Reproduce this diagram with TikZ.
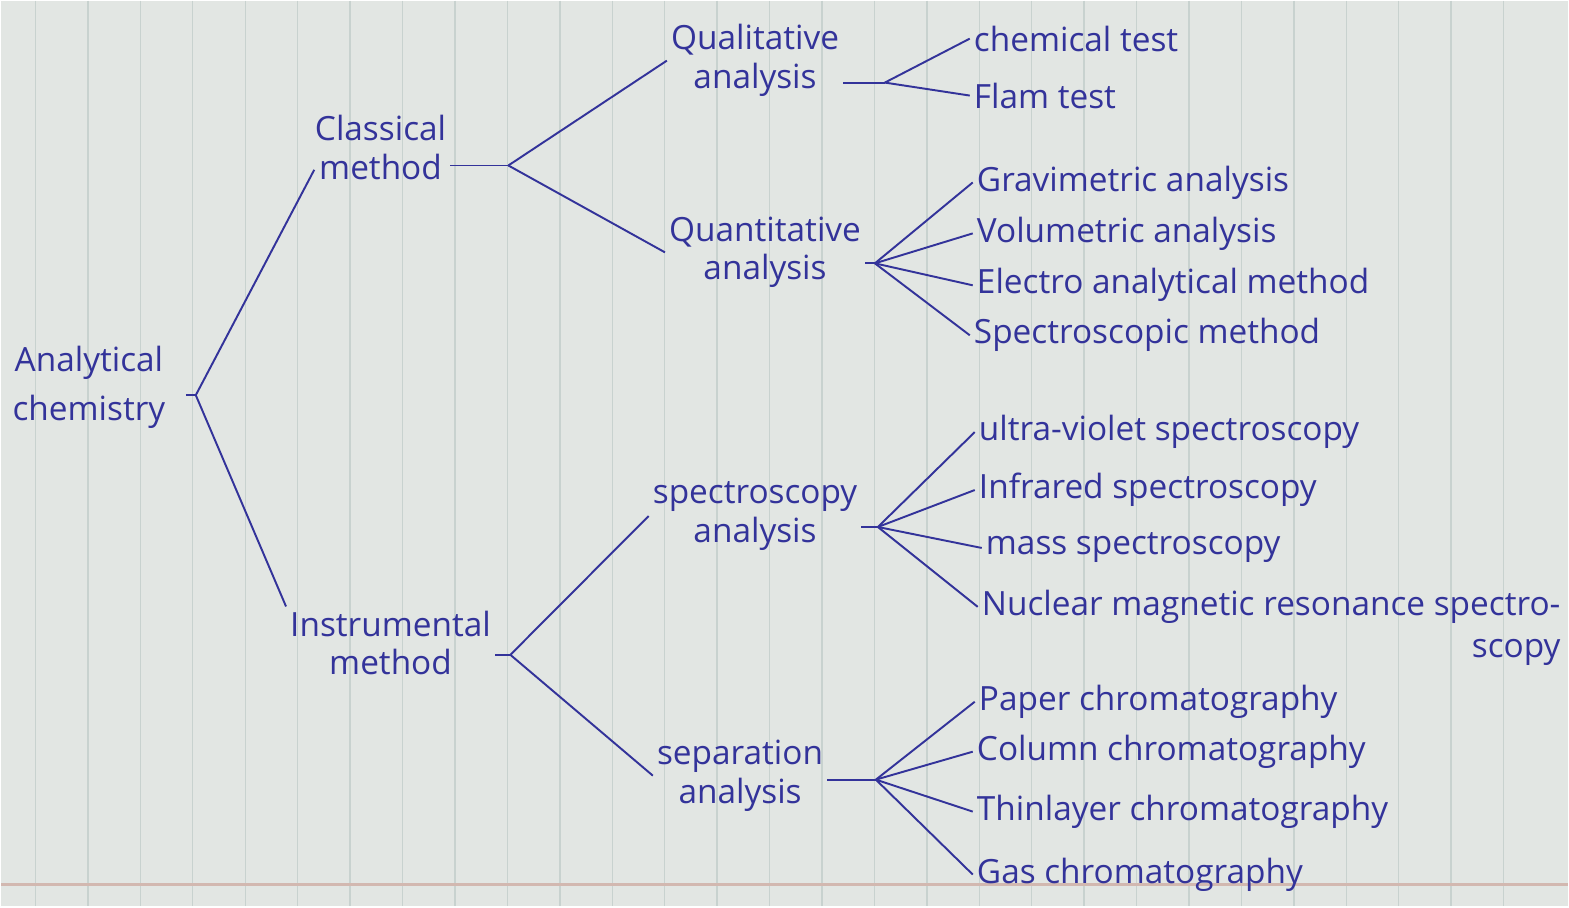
\documentclass[tikz,border=0pt]{standalone}
\usepackage{fontspec}
\setmainfont{Open Sans}
\usetikzlibrary{positioning}
\definecolor{ink}{HTML}{33339A}
\definecolor{paper}{HTML}{E2E6E3}
\definecolor{rule}{HTML}{C8D2CF}
\definecolor{margin}{HTML}{D2B8B0}

\begin{document}
\begin{tikzpicture}[x=0.01cm, y=-0.01cm,
    every node/.style={text=ink, font=\fontsize{9.5}{11}\selectfont, inner sep=1pt},
    group/.style={align=center},
    leaf/.style={anchor=west},
    link/.style={draw=ink, line width=0.55pt}]
  % paper
  \fill[paper] (0,0) rectangle (1569,907);
  \foreach \k in {0,...,28}
    \draw[rule, line width=0.4pt] (34.5+52.5*\k,0) -- (34.5+52.5*\k,907);
  \draw[margin, line width=0.6pt] (0,885) -- (1569,885);
  \useasboundingbox (0,0) rectangle (1569,907);

  % main tree
  \node[group] (root) at (88,387) {Analytical\\[3pt]chemistry};
  \node[group] (classical) at (380,147) {Classical\\method};
  \node[group] (instr) at (390,643) {Instrumental\\method};
  \node[group] (qual) at (755,60) {Qualitative\\analysis};
  \node[group] (quant) at (765,252) {Quantitative\\analysis};
  \node[group] (spec) at (755,516) {spectroscopy\\analysis};
  \node[group] (sep) at (740,776) {separation\\analysis};

  % leaves
  \node[leaf] (chem) at (970,38) {chemical test};
  \node[leaf] (flam) at (970,95) {Flam test};
  \node[leaf] (grav) at (973,182) {Gravimetric analysis};
  \node[leaf] (volu) at (973,233) {Volumetric analysis};
  \node[leaf] (elec) at (973,285) {Electro analytical method};
  \node[leaf] (spcm) at (970,335) {Spectroscopic method};
  \node[leaf] (uvs) at (975,432) {ultra-violet spectroscopy};
  \node[leaf] (irs) at (975,490) {Infrared spectroscopy};
  \node[leaf] (mass) at (982,548) {mass spectroscopy};
  \node[leaf] (nmr) at (978,607) {Nuclear magnetic resonance spectro-};
  \node[anchor=north east] (nmrb) at ([yshift=-2pt]nmr.south east) {scopy};
  \node[leaf] (pap) at (975,702) {Paper chromatography};
  \node[leaf] (col) at (973,752) {Column chromatography};
  \node[leaf] (tlc) at (973,812) {Thinlayer chromatography};
  \node[leaf] (gas) at (973,875) {Gas chromatography};

  % branch points
  \coordinate (rt) at (185,395);
  \coordinate (rb) at (195,395);
  \coordinate (cb) at (508,165);
  \coordinate (ib) at (510,655);
  \coordinate (qb) at (885,82);
  \coordinate (tb) at (875,263);
  \coordinate (sb) at (878,527);
  \coordinate (pb) at (876,780);

  \draw[link] (rt) -- (rb);
  \draw[link] (rb) -- ([xshift=1pt,yshift=4pt]classical.south west);
  \draw[link] (rb) -- (instr.north west);

  \draw[link] (classical.east |- cb) -- (cb);
  \draw[link] (cb) -- (qual.west);
  \draw[link] (cb) -- (quant.west);
  \draw[link] (instr.east |- ib) -- (ib);
  \draw[link] (ib) -- (spec.west);
  \draw[link] (ib) -- (sep.west);

  \draw[link] (qual.east |- qb) -- (qb);
  \foreach \n in {chem,flam}
    \draw[link] (qb) -- (\n.west);
  \draw[link] (quant.east |- tb) -- (tb);
  \foreach \n in {grav,volu,elec,spcm}
    \draw[link] (tb) -- (\n.west);
  \draw[link] (spec.east |- sb) -- (sb);
  \foreach \n in {uvs,irs,mass,nmr}
    \draw[link] (sb) -- (\n.west);
  \draw[link] (sep.east |- pb) -- (pb);
  \foreach \n in {pap,col,tlc,gas}
    \draw[link] (pb) -- (\n.west);
\end{tikzpicture}
\end{document}
